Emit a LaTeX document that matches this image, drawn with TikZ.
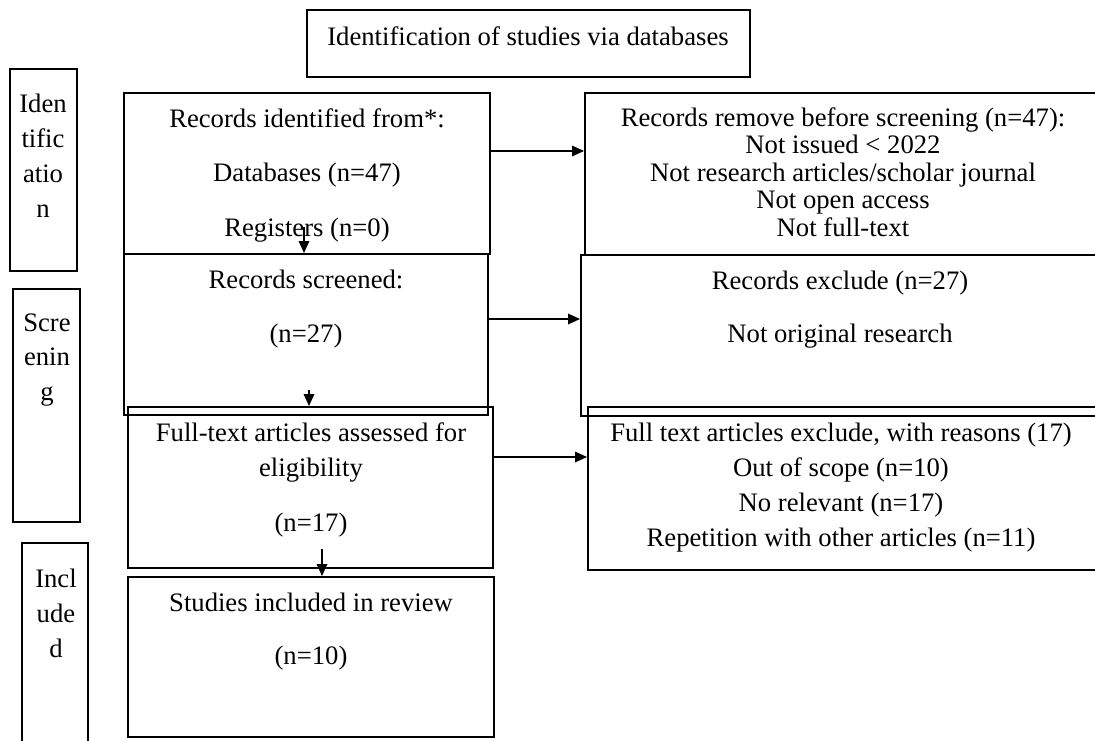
\documentclass[tikz,border=0pt]{standalone}
\usepackage{fontspec}
\setmainfont{Liberation Serif}
\usetikzlibrary{arrows.meta,fit}
\tikzset{
  box/.style={draw=black, line width=1.5pt, inner sep=0pt, fill=none},
  txt/.style={anchor=base, inner sep=0pt, font=\fontsize{20}{24}\selectfont},
  arr/.style={line width=0.9pt, -{Triangle[length=9pt,width=8pt]}}
}
\begin{document}
\begin{tikzpicture}[x=0.75pt,y=-0.75pt]
\useasboundingbox (0,0) rectangle (1095,740);
\clip (0,0) rectangle (1095,740);
\fill[white] (0,0) rectangle (1095,740);

% title
\node[box, fit={(307,10) (750,77)}] (title) {};
\node[txt] (title-t) at (528,45) {Identification of studies via databases};

% left stage labels
\node[box, fit={(10,69) (77,271)}] (sid) {};
\node[txt] (sid-1) at (43,112) {Iden};
\node[txt] (sid-2) at (43,147) {tific};
\node[txt] (sid-3) at (43,182) {atio};
\node[txt] (sid-4) at (43,217) {n};

\node[box, fit={(13,289) (80,522)}] (ssc) {};
\node[txt] (ssc-1) at (47,331) {Scre};
\node[txt] (ssc-2) at (47,365) {enin};
\node[txt] (ssc-3) at (47,400) {g};

\node[box, fit={(22,543) (88,748)}] (sin) {};
\node[txt] (sin-1) at (56,587) {Incl};
\node[txt] (sin-2) at (56,622) {ude};
\node[txt] (sin-3) at (56,657) {d};

% centre column
\node[box, fit={(124,93) (490,254)}] (b1) {};
\node[txt] (b1-1) at (307,127) {Records identified from*:};
\node[txt] (b1-2) at (307,181) {Databases (n=47)};
\node[txt] (b1-3) at (307,236) {Registers (n=0)};

\node[box, fit={(124,254) (488,415)}] (b2) {};
\node[txt] (b2-1) at (306,288) {Records screened:};
\node[txt] (b2-2) at (306,342) {(n=27)};

\node[box, fit={(128,407) (493,568)}] (b3) {};
\node[txt] (b3-1) at (311,441) {Full-text articles assessed for};
\node[txt] (b3-2) at (311,476) {eligibility};
\node[txt] (b3-3) at (311,531) {(n=17)};

\node[box, fit={(128,577) (494,737)}] (b4) {};
\node[txt] (b4-1) at (311,611) {Studies included in review};
\node[txt] (b4-2) at (311,664) {(n=10)};

% right column
\node[box, fit={(585,93) (1105,255)}] (r1) {};
\node[txt] (r1-1) at (843,126) {Records remove before screening (n=47):};
\node[txt] (r1-2) at (843,153.5) {Not issued < 2022};
\node[txt] (r1-3) at (843,181) {Not research articles/scholar journal};
\node[txt] (r1-4) at (843,208.5) {Not open access};
\node[txt] (r1-5) at (843,236) {Not full-text};

\node[box, fit={(581,255) (1105,416)}] (r2) {};
\node[txt] (r2-1) at (840,289) {Records exclude (n=27)};
\node[txt] (r2-2) at (840,342) {Not original research};

\node[box, fit={(588,407) (1105,570)}] (r3) {};
\node[txt] (r3-1) at (841,441) {Full text articles exclude, with reasons (17)};
\node[txt] (r3-2) at (841,476) {Out of scope (n=10)};
\node[txt] (r3-3) at (841,511) {No relevant (n=17)};
\node[txt] (r3-4) at (841,546) {Repetition with other articles (n=11)};

% connectors
\coordinate (d1) at (304,227);
\coordinate (d2) at (309,390);
\coordinate (d3) at (322,549);
\draw[arr] (d1) -- (d1 |- b2.north);
\draw[arr] (d2) -- (d2 |- b3.north);
\draw[arr] (d3) -- (d3 |- b4.north);

\coordinate (h1) at (0,151);
\coordinate (h2) at (0,319);
\coordinate (h3) at (0,457);
\draw[arr] (b1.east |- h1) -- (r1.west |- h1);
\draw[arr] (b2.east |- h2) -- (r2.west |- h2);
\draw[arr] (b3.east |- h3) -- (r3.west |- h3);
\end{tikzpicture}
\end{document}
